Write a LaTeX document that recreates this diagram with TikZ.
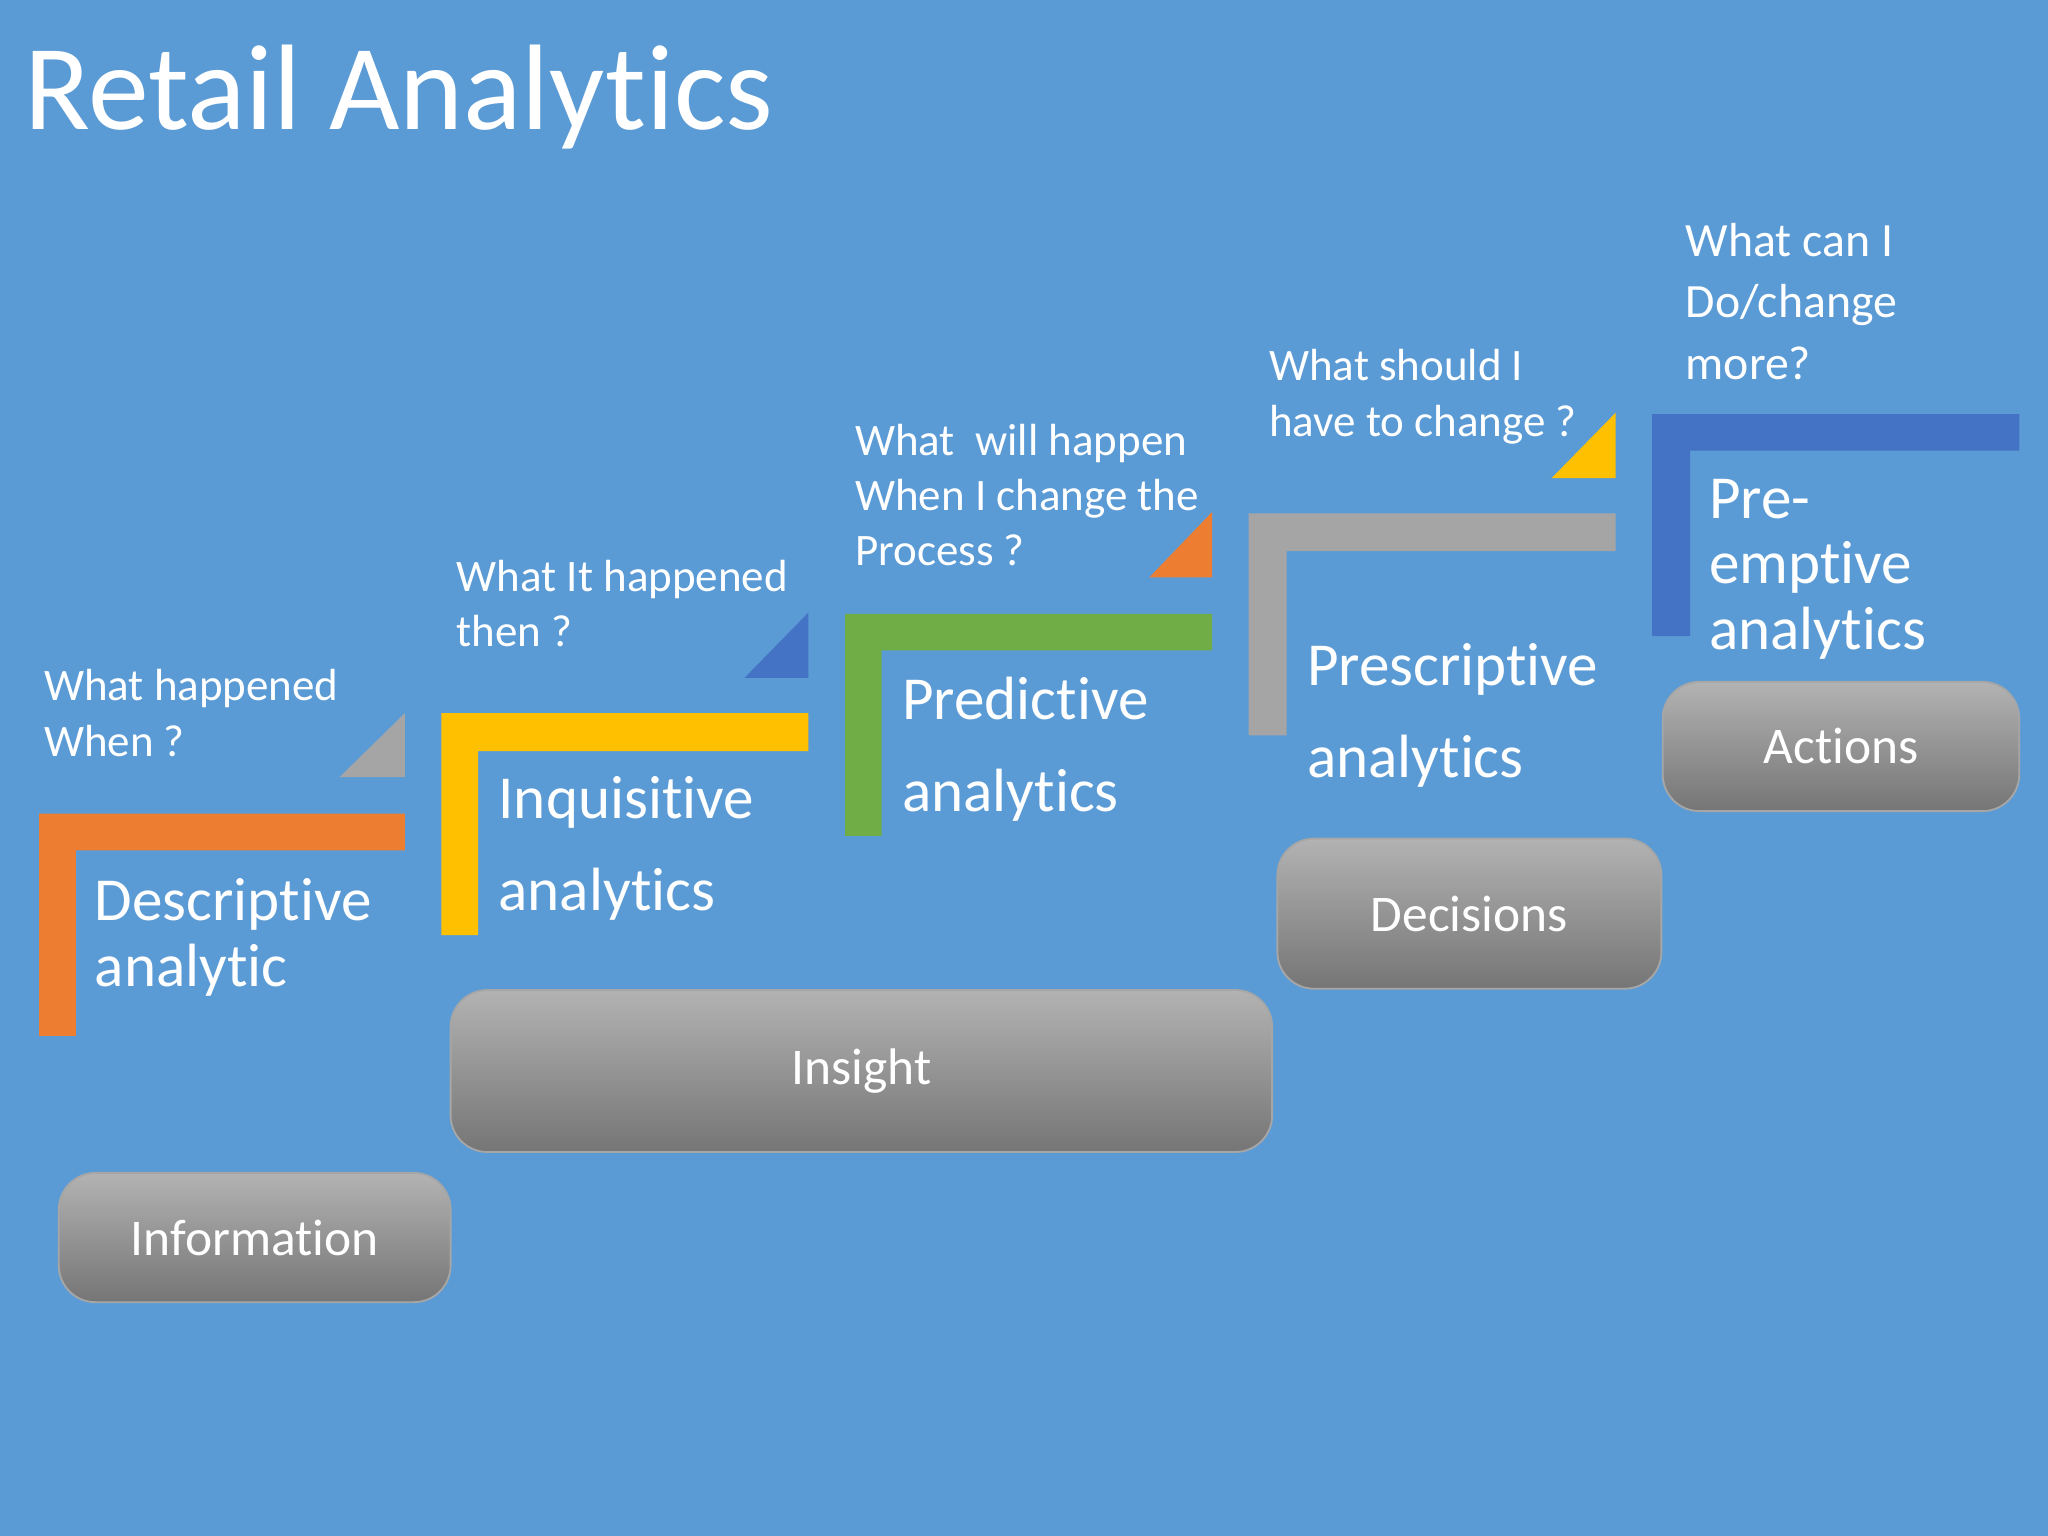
\documentclass[tikz,border=0pt]{standalone}
\usepackage{fontspec}
\setmainfont{Carlito}[Ligatures=NoCommon]
\begin{document}
\begin{tikzpicture}[x=0.01cm,y=-0.01cm,
  q/.style={anchor=north west,align=left,text=white,font=\fontsize{9.8}{12}\selectfont,inner sep=0},
  big/.style={anchor=north west,align=left,text=white,font=\fontsize{13.3}{14.3}\selectfont,inner sep=0},
  wide/.style={anchor=north west,align=left,text=white,font=\fontsize{13.3}{20}\selectfont,inner sep=0},
  gbox/.style={rounded corners=8pt,draw=gray!70,top color=gray!60,bottom color=gray!80!black!90,text=white,font=\fontsize{11.2}{13}\selectfont}]
\definecolor{bg}{HTML}{5B9BD5}
\definecolor{c1}{HTML}{ED7D31}\definecolor{c2}{HTML}{FFC000}\definecolor{c3}{HTML}{70AD47}
\definecolor{c4}{HTML}{A5A5A5}\definecolor{c5}{HTML}{4472C4}
\fill[bg] (0,0) rectangle (1568,1176);
\useasboundingbox (0,0) rectangle (1568,1176);
\node[anchor=west,text=white,font=\fontsize{26.5}{30}\selectfont,inner sep=0] (title) at (18,74) {Retail Analytics};
% L shapes
\fill[c1] (30,623) -- (310,623) -- (310,651) -- (58,651) -- (58,793) -- (30,793) -- cycle;
\fill[c4] (260,595) -- (310,595) -- (310,546) -- cycle;
\fill[c2] (338,546) -- (619,546) -- (619,575) -- (366,575) -- (366,716) -- (338,716) -- cycle;
\fill[c5] (570,519) -- (619,519) -- (619,469) -- cycle;
\fill[c3] (647,470) -- (928,470) -- (928,498) -- (675,498) -- (675,640) -- (647,640) -- cycle;
\fill[c1] (880,442) -- (928,442) -- (928,392) -- cycle;
\fill[c4] (956,393) -- (1237,393) -- (1237,422) -- (985,422) -- (985,563) -- (956,563) -- cycle;
\fill[c2] (1188,366) -- (1237,366) -- (1237,316) -- cycle;
\fill[c5] (1265,317) -- (1546,317) -- (1546,345) -- (1294,345) -- (1294,487) -- (1265,487) -- cycle;
% texts
\node[q] (q1) at (33,512) {What happened\\When ?};
\node[q] (q2) at (349,428) {What It happened\\then ?};
\node[q] (q3) at (654,324) {What~ will happen\\When I change the\\Process ?};
\node[q] (q4) at (971,267) {What should I\\have to change ?};
\node[q,font=\fontsize{10.4}{13.4}\selectfont] (q5) at (1290,170) {What can I\\Do/change\\more?};
\node[big] (t1) at (72,672) {Descriptive\\analytic};
\node[wide] (t2) at (381,594) {Inquisitive\\analytics};
\node[wide] (t3) at (690,518) {Predictive\\analytics};
\node[wide] (t4) at (1000,492) {Prescriptive\\analytics};
\node[big] (t5) at (1308,366) {Pre-\\emptive\\analytics};
% boxes
\node[gbox,minimum width=300*0.01cm,minimum height=99*0.01cm] (info) at (195,947.5) {Information};
\node[gbox,minimum width=629*0.01cm,minimum height=124*0.01cm] (ins) at (659.5,820) {Insight};
\node[gbox,minimum width=294*0.01cm,minimum height=115*0.01cm] (dec) at (1125,699.5) {Decisions};
\node[gbox,minimum width=273*0.01cm,minimum height=99*0.01cm] (act) at (1409.5,571.5) {Actions};
\end{tikzpicture}
\end{document}
